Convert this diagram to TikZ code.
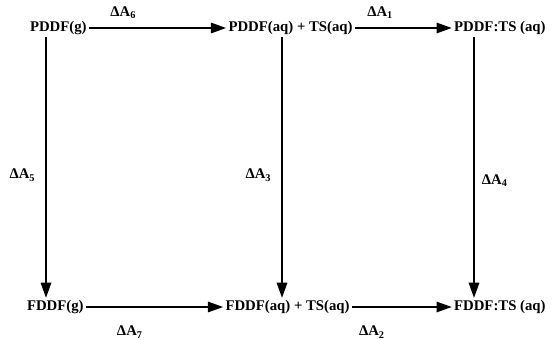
\documentclass[tikz,border=0pt]{standalone}
\usepackage{fontspec}
\setmainfont{Liberation Serif}
\usetikzlibrary{arrows.meta,positioning}
\begin{document}
\begin{tikzpicture}[x=0.025cm, y=-0.025cm,
  font=\fontsize{10.5}{12}\selectfont\bfseries,
  state/.style={inner sep=1.5pt},
  lab/.style={inner sep=1pt},
  arr/.style={line width=1.2pt, -{Triangle[length=3.8mm, width=2.6mm]}}]
  \useasboundingbox (0, 0) rectangle (558, 340);
  \node[state, anchor=east] (pg) at (89, 28) {PDDF(g)};
  \node[state, anchor=east] (pa) at (355, 28) {PDDF(aq) + TS(aq)};
  \node[state, anchor=east] (pc) at (548, 28) {PDDF:TS (aq)};
  \node[state, anchor=east] (fg) at (86, 307) {FDDF(g)};
  \node[state, anchor=east] (fa) at (352, 307) {FDDF(aq) + TS(aq)};
  \node[state, anchor=east] (fc) at (548, 307) {FDDF:TS (aq)};
  \coordinate (xl) at (46, 0);
  \coordinate (xm) at (282, 0);
  \coordinate (xr) at (474, 0);
  \draw[arr] (pg) -- node[lab, pos=0.25, above=5pt] {ΔA\textsubscript{6}} (pa);
  \draw[arr] (pa) -- node[lab, pos=0.26, above=5pt] {ΔA\textsubscript{1}} (pc);
  \draw[arr] (fg) -- node[lab, pos=0.32, below=12pt] {ΔA\textsubscript{7}} (fa);
  \draw[arr] (fa) -- node[lab, pos=0.2, below=12pt] {ΔA\textsubscript{2}} (fc);
  \draw[arr] (pg.south -| xl) -- node[lab, pos=0.53, left=6pt] {ΔA\textsubscript{5}} (fg.north -| xl);
  \draw[arr] (pa.south -| xm) -- node[lab, pos=0.53, left=6pt] {ΔA\textsubscript{3}} (fa.north -| xm);
  \draw[arr] (pc.south -| xr) -- node[lab, pos=0.55, right=4pt] {ΔA\textsubscript{4}} (fc.north -| xr);
\end{tikzpicture}
\end{document}
